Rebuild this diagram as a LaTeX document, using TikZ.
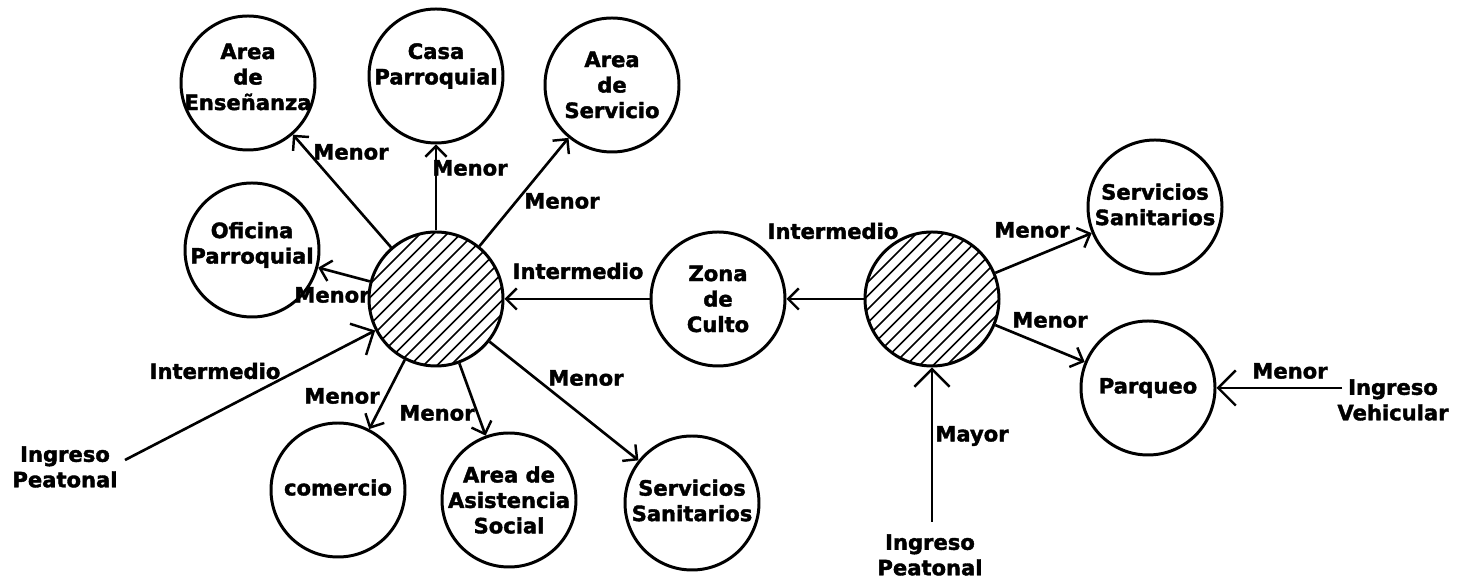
\documentclass[tikz,border=0pt]{standalone}
\usepackage{fontspec}
\setmainfont{DejaVu Sans}[BoldFeatures={FakeBold=1.8}]
\usetikzlibrary{arrows.meta}
\tikzset{
  txt/.style={font=\bfseries\fontsize{12}{14.5}\selectfont, align=center, inner sep=1pt},
  room/.style={circle, draw, line width=1.7pt, minimum size=2.68cm, inner sep=0pt},
  hub/.style={room, path picture={
      \foreach \k in {-11,...,11}
        \draw[line width=0.9pt] ([xshift=\k*0.27cm]path picture bounding box.center) ++(-2,-2) -- ++(4,4);
    }},
  arr/.style={line width=1.5pt, -{Straight Barb[length=6pt,width=12pt,line width=1.4pt]}},
  bigarr/.style={line width=1.5pt, -{Straight Barb[length=10pt,width=20pt,line width=1.4pt]}}
}
\begin{document}
\begin{tikzpicture}
\useasboundingbox (0,0) rectangle (29.14,-11.56);
% circles
\node[room, label={[txt,yshift=1.2mm]center:Area\\de\\Enseñanza}] (ens) at (4.96,-1.66) {};
\node[room, label={[txt,yshift=2mm]center:Casa\\Parroquial}] (casa) at (8.72,-1.52) {};
\node[room, label={[txt]center:Area\\de\\Servicio}] (serv) at (12.24,-1.70) {};
\node[room, label={[txt,yshift=1mm]center:Oficina\\Parroquial}] (ofi) at (5.04,-5.00) {};
\node[hub] (hub1) at (8.72,-5.98) {};
\node[room, label={[txt]center:Zona\\de\\Culto}] (zona) at (14.36,-5.98) {};
\node[hub] (hub2) at (18.64,-5.98) {};
\node[room, label={[txt,yshift=0.5mm]center:Servicios\\Sanitarios}] (ssr) at (23.10,-4.14) {};
\node[room, label={[txt]center:Parqueo}] (parq) at (22.96,-7.76) {};
\node[room, label={[txt,yshift=0.5mm]center:comercio}] (com) at (6.76,-9.80) {};
\node[room, label={[txt]center:Area de\\Asistencia\\Social}] (asis) at (10.18,-10.00) {};
\node[room, label={[txt,yshift=0.5mm]center:Servicios\\Sanitarios}] (ssb) at (13.84,-10.06) {};
% entrances
\node[txt] (ipl) at (1.30,-9.34) {Ingreso\\Peatonal};
\coordinate (iplc) at (2.50,-9.20);
\node[txt] (ipb) at (18.60,-11.10) {Ingreso\\Peatonal};
\coordinate (ipbc) at (18.64,-10.44);
\node[txt] (iv) at (27.86,-8.00) {Ingreso\\Vehicular};
\coordinate (ivc) at (26.84,-7.76);
% connectors
\draw[arr] (hub1) -- (ens);
\draw[arr] (hub1) -- (casa);
\draw[arr] (hub1) -- (serv);
\draw[arr] (hub1) -- (ofi);
\draw[arr] (hub1) -- (com);
\draw[arr] (hub1) -- (asis);
\draw[arr] (hub1) -- (ssb);
\draw[arr] (zona) -- (hub1);
\draw[arr] (hub2) -- (zona);
\draw[arr] (hub2) -- (ssr);
\draw[arr] (hub2) -- (parq);
\draw[bigarr] (iplc) -- (hub1);
\draw[bigarr] (ipbc) -- (hub2);
\draw[bigarr] (ivc) -- (parq);
% labels
\node[txt] (l1) at (7.02,-3.04) {Menor};
\node[txt] (l2) at (9.40,-3.36) {Menor};
\node[txt] (l3) at (11.24,-4.02) {Menor};
\node[txt] (l4) at (6.64,-5.90) {Menor};
\node[txt] (l5) at (4.30,-7.42) {Intermedio};
\node[txt] (l6) at (6.84,-7.92) {Menor};
\node[txt] (l7) at (8.74,-8.26) {Menor};
\node[txt] (l8) at (11.72,-7.56) {Menor};
\node[txt] (l9) at (11.56,-5.42) {Intermedio};
\node[txt] (l10) at (16.66,-4.62) {Intermedio};
\node[txt] (l11) at (20.64,-4.60) {Menor};
\node[txt] (l12) at (21.00,-6.40) {Menor};
\node[txt] (l13) at (25.80,-7.42) {Menor};
\node[txt] (l14) at (19.44,-8.72) {Mayor};
\end{tikzpicture}
\end{document}
